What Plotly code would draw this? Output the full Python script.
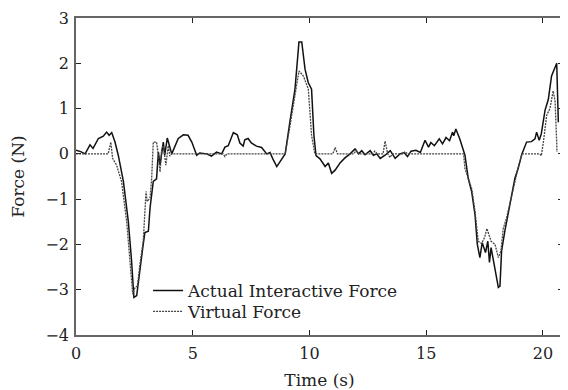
import plotly.graph_objects as go

# Actual interactive force (solid)
actual_t = [0, 0.2, 0.39, 0.6, 0.73, 0.96, 1.17, 1.31, 1.42, 1.53, 1.67, 1.81, 2.03, 2.24, 2.38, 2.48,
            2.6, 2.74, 2.86, 2.95, 3.1, 3.17, 3.31, 3.45, 3.53, 3.6, 3.74, 3.8, 3.91, 4.1, 4.38, 4.6,
            4.8, 4.96, 5.17, 5.3, 5.6, 5.8, 6.02, 6.24, 6.38, 6.52, 6.74, 6.91, 7.02, 7.16, 7.23, 7.37,
            7.51, 7.73, 7.95, 8.17, 8.31, 8.43, 8.6, 8.74, 8.96, 9.16, 9.38, 9.55, 9.67, 9.81, 9.95,
            10.09, 10.19, 10.28, 10.45, 10.67, 10.81, 10.95, 11.1, 11.31, 11.52, 11.74, 11.95, 12.1,
            12.24, 12.38, 12.6, 12.74, 12.88, 13.03, 13.24, 13.46, 13.67, 13.88, 14.05, 14.2, 14.35,
            14.56, 14.75, 14.95, 15.1, 15.2, 15.35, 15.56, 15.7, 15.85, 16.0, 16.13, 16.18, 16.27,
            16.44, 16.66, 16.8, 16.95, 17.09, 17.19, 17.3, 17.4, 17.54, 17.64, 17.71, 17.78, 17.88,
            18.02, 18.09, 18.16, 18.23, 18.37, 18.51, 18.66, 18.8, 18.94, 19.1, 19.3, 19.51, 19.66,
            19.73, 19.84, 19.93, 20.09, 20.23, 20.37, 20.59, 20.66]
actual_f = [0.08, 0.05, 0.0, 0.2, 0.12, 0.34, 0.39, 0.48, 0.41, 0.47, 0.26, -0.03, -0.61, -1.49, -2.36, -3.17,
            -3.13, -2.51, -2.07, -1.74, -1.71, -1.2, -0.61, -0.55, 0.04, -0.25, 0.26, -0.03, 0.35, 0.0, 0.34, 0.42,
            0.41, 0.26, -0.03, 0.02, 0.0, -0.05, 0.04, 0.0, 0.15, 0.18, 0.47, 0.42, 0.24, 0.17, 0.31, 0.34,
            0.24, 0.17, 0.14, 0.0, 0.03, -0.11, -0.28, -0.17, 0.0, 0.7, 1.43, 2.47, 2.47, 1.87, 1.57,
            1.43, 0.41, -0.04, -0.11, -0.28, -0.2, -0.43, -0.36, -0.2, -0.09, 0.0, 0.11, 0.0,
            0.07, -0.02, 0.07, -0.03, 0.0, -0.1, -0.03, 0.07, -0.1, 0.0, 0.03, -0.06, 0.06,
            0.08, 0.03, 0.3, 0.15, 0.25, 0.18, 0.33, 0.22, 0.36, 0.29, 0.48, 0.4, 0.55,
            0.33, -0.03, -0.54, -0.84, -1.34, -2.0, -2.29, -1.96, -2.18, -1.93, -2.4, -2.07, -2.35,
            -2.8, -2.95, -2.92, -2.14, -1.7, -1.34, -0.97, -0.54, -0.32, 0.0, 0.26, 0.27, 0.33,
            0.48, 0.3, 0.44, 0.96, 1.2, 1.72, 2.0, 0.7]

# Virtual force (dotted)
virtual_t = [0, 1.38, 1.49, 1.57, 1.74, 1.95, 2.17, 2.31, 2.43, 2.53, 2.63, 2.74, 2.88, 3.0, 3.05, 3.17,
             3.24, 3.31, 3.45, 3.53, 3.6, 3.67, 3.74, 3.85, 3.95, 4.02, 4.1, 6.3, 6.38, 6.46, 8.96, 9.16,
             9.38, 9.55, 9.74, 9.95, 10.09, 10.23, 11.0, 11.1, 11.2, 11.9, 12.0, 12.1, 12.7, 12.8, 12.9,
             13.15, 13.24, 13.35, 13.45, 13.55, 14.0, 14.1, 14.2, 16.6, 16.66, 16.8, 16.95, 17.09, 17.23,
             17.37, 17.5, 17.6, 17.68, 17.78, 17.95, 18.09, 18.2, 18.3, 18.45, 18.6, 18.8, 18.94, 19.1,
             19.86, 19.93, 20.02, 20.16, 20.23, 20.3, 20.44, 20.52, 20.59, 20.6]
virtual_f = [0, 0, 0.26, -0.1, -0.25, -0.61, -1.49, -2.43, -3.1, -2.95, -2.92, -2.44, -1.93, -0.83, -1.05, -0.98,
             -0.55, 0.26, 0.26, -0.03, -0.4, 0.12, 0.18, -0.25, 0.18, -0.05, 0, 0, -0.06, 0, 0, 0.6,
             1.3, 1.83, 1.72, 1.43, 0.41, 0, 0, 0.14, 0, 0, 0.08, 0, 0, 0.06, 0,
             0, 0.28, 0.0, -0.08, 0, 0, 0.05, 0, 0, -0.32, -0.55, -0.77, -1.27, -1.93,
             -1.98, -1.85, -1.65, -1.8, -1.93, -2.0, -2.29, -2.15, -1.65, -1.4, -1.05, -0.62, -0.3, 0.0,
             0.0, -0.04, 0.26, 0.85, 0.92, 1.0, 1.39, 1.17, 0.26, 0.04]

x_ticks = [0, 5, 10, 15, 20]
y_ticks = [-4, -3, -2, -1, 0, 1, 2, 3]

FONT = "DejaVu Serif"
TXT = "#222222"

fig = go.Figure()
fig.add_trace(go.Scatter(x=actual_t, y=actual_f, mode="lines", name="Actual Interactive Force",
                         line=dict(color="#111111", width=1.5), legend="legend"))
fig.add_trace(go.Scatter(x=virtual_t, y=virtual_f, mode="lines", name="Virtual Force",
                         line=dict(color="#444444", width=1.3, dash="2px,1px"), legend="legend2"))

axis_common = dict(showline=True, linecolor="#666666", linewidth=1.5, mirror="ticks",
                   ticks="inside", ticklen=5, tickcolor="#222222", tickwidth=1,
                   showgrid=False, zeroline=False, automargin=False, ticklabeloverflow="allow",
                   tickfont=dict(family=FONT, size=16, color=TXT))

fig.update_xaxes(range=[0, 20.86], tickvals=x_ticks, ticklabelstandoff=3,
                 title=dict(text="Time (s)", font=dict(family=FONT, size=17, color=TXT), standoff=14),
                 **axis_common)
fig.update_yaxes(range=[-4, 3], tickvals=y_ticks, ticklabelstandoff=2,
                 title=dict(text="Force (N)", font=dict(family=FONT, size=17, color=TXT), standoff=22),
                 **axis_common)

leg_common = dict(xanchor="left", yanchor="top", bgcolor="rgba(0,0,0,0)", borderwidth=0,
                  font=dict(family=FONT, size=17, color=TXT), itemwidth=30)

# the page adds an 8px body margin, so the figure is drawn 8px smaller and offset
fig.update_layout(
    width=560, height=382,
    margin=dict(l=68, r=5, t=10, b=55),
    plot_bgcolor="white", paper_bgcolor="white",
    font=dict(family=FONT, size=16, color=TXT),
    legend=dict(x=0.148, y=0.196, **leg_common),
    legend2=dict(x=0.148, y=0.13, **leg_common),
    showlegend=True,
)

fig.write_html("out.html")
